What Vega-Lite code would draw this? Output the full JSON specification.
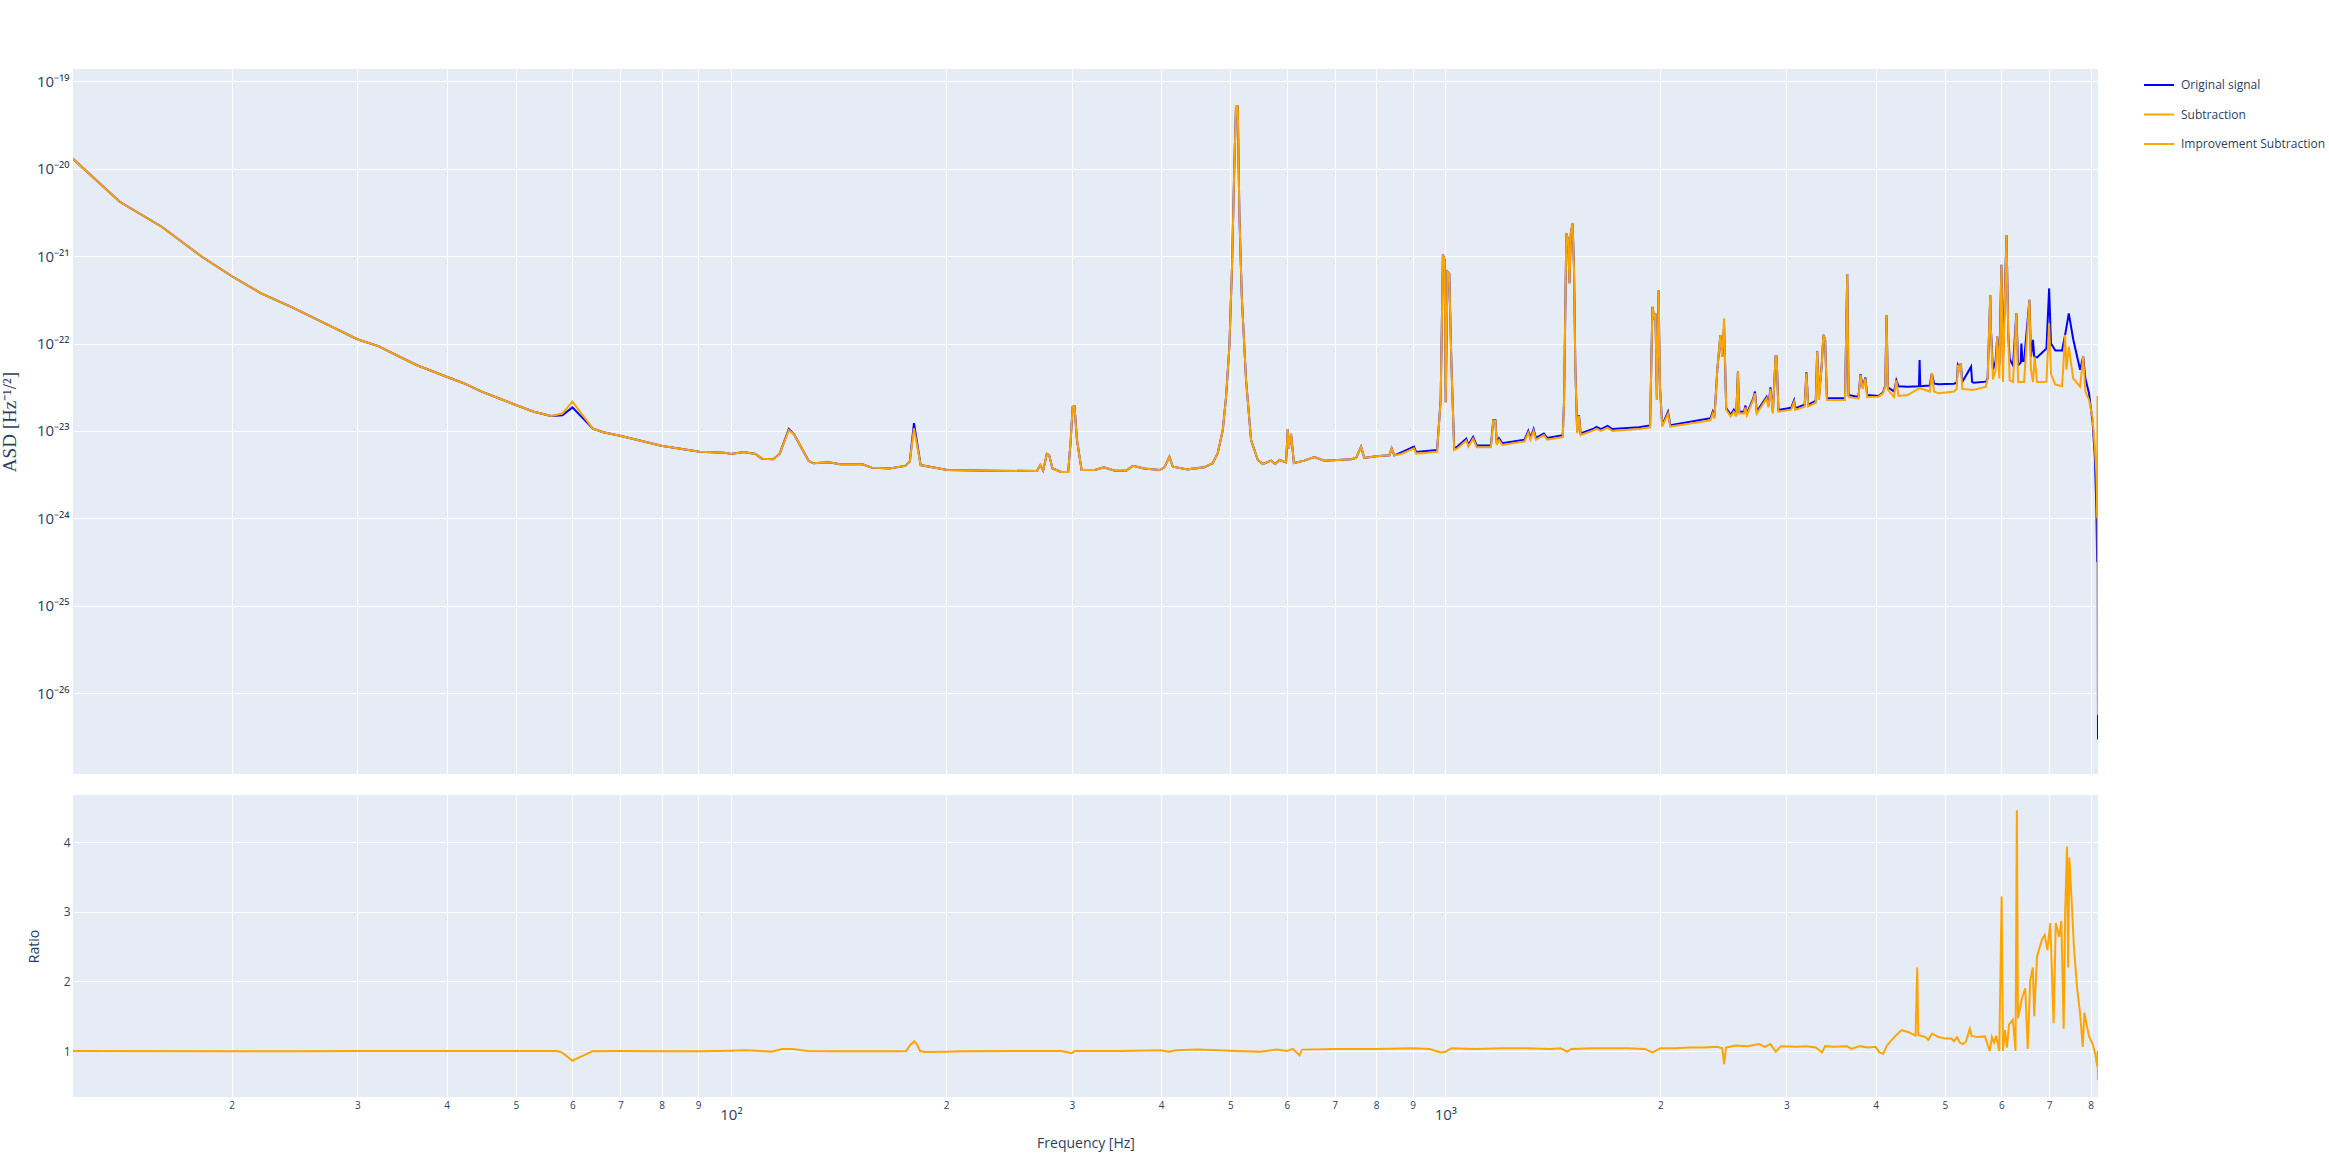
{
  "$schema": "https://vega.github.io/schema/vega-lite/v6.json",
  "background": "white",
  "padding": {"left": 0, "top": 69, "right": 5, "bottom": 5},
  "config": {
    "view": {"fill": "#E5ECF6", "stroke": null},
    "font": "Open Sans",
    "axis": {"gridColor": "white", "gridWidth": 1, "domain": false, "ticks": false, "labelColor": "#2a3f5f", "titleColor": "#2a3f5f", "labelFont": "Open Sans", "titleFont": "Open Sans", "titleFontWeight": "normal", "labelOverlap": false, "labelBound": false, "labelFlush": false},
    "legend": {"title": null, "orient": "right", "offset": 45, "padding": 0, "symbolType": "stroke", "symbolSize": 900, "symbolStrokeWidth": 2, "labelFontSize": 12, "labelColor": "#2a3f5f", "labelFont": "Open Sans", "rowPadding": 7.5, "labelOffset": 6}
  },
  "datasets": {
    "orig": [
      {"f": 12, "v": 1.30e-20}, {"f": 13.95, "v": 4.19e-21}, {"f": 15.97, "v": 2.17e-21}, {"f": 18.18, "v": 9.84e-22}, {"f": 20, "v": 5.92e-22},
      {"f": 22, "v": 3.75e-22}, {"f": 24.2, "v": 2.64e-22}, {"f": 27.3, "v": 1.63e-22}, {"f": 30, "v": 1.12e-22}, {"f": 32.1, "v": 9.35e-23},
      {"f": 36.3, "v": 5.68e-23}, {"f": 40, "v": 4.17e-23}, {"f": 42.1, "v": 3.56e-23}, {"f": 44.8, "v": 2.81e-23}, {"f": 47.6, "v": 2.32e-23},
      {"f": 50, "v": 1.98e-23}, {"f": 53, "v": 1.66e-23}, {"f": 56, "v": 1.48e-23}, {"f": 58.1, "v": 1.51e-23}, {"f": 60, "v": 1.86e-23},
      {"f": 64.1, "v": 1.06e-23}, {"f": 66.3, "v": 9.64e-24}, {"f": 70.2, "v": 8.75e-24}, {"f": 79.9, "v": 6.78e-24}, {"f": 90.4, "v": 5.78e-24},
      {"f": 97.8, "v": 5.64e-24}, {"f": 100, "v": 5.45e-24}, {"f": 104.2, "v": 5.75e-24}, {"f": 108.2, "v": 5.45e-24}, {"f": 110.5, "v": 4.81e-24},
      {"f": 114.6, "v": 4.73e-24}, {"f": 117, "v": 5.45e-24}, {"f": 120.5, "v": 1.05e-23}, {"f": 122.6, "v": 9.12e-24}, {"f": 128.5, "v": 4.53e-24},
      {"f": 130.5, "v": 4.26e-24}, {"f": 137.2, "v": 4.37e-24}, {"f": 142.2, "v": 4.15e-24}, {"f": 152.8, "v": 4.15e-24}, {"f": 157.3, "v": 3.80e-24},
      {"f": 166.7, "v": 3.72e-24}, {"f": 175.3, "v": 3.98e-24}, {"f": 178, "v": 4.47e-24}, {"f": 180.4, "v": 1.23e-23}, {"f": 184.3, "v": 4.07e-24},
      {"f": 200.9, "v": 3.57e-24}, {"f": 232, "v": 3.51e-24}, {"f": 268, "v": 3.47e-24}, {"f": 271, "v": 4.07e-24}, {"f": 273.5, "v": 3.51e-24},
      {"f": 276.8, "v": 5.45e-24}, {"f": 278.9, "v": 5.25e-24}, {"f": 281.9, "v": 3.72e-24}, {"f": 290, "v": 3.39e-24}, {"f": 296.5, "v": 3.39e-24},
      {"f": 299, "v": 7.94e-24}, {"f": 300.8, "v": 1.89e-23}, {"f": 302.6, "v": 1.91e-23}, {"f": 305, "v": 7.94e-24}, {"f": 309.6, "v": 3.57e-24},
      {"f": 323.2, "v": 3.57e-24}, {"f": 332.6, "v": 3.83e-24}, {"f": 344.8, "v": 3.51e-24}, {"f": 357.5, "v": 3.51e-24}, {"f": 365.3, "v": 3.98e-24},
      {"f": 378.7, "v": 3.72e-24}, {"f": 398.2, "v": 3.57e-24}, {"f": 404.3, "v": 3.83e-24}, {"f": 410.9, "v": 5.07e-24}, {"f": 415.4, "v": 3.89e-24},
      {"f": 435.8, "v": 3.63e-24}, {"f": 459.8, "v": 3.83e-24}, {"f": 472.4, "v": 4.27e-24}, {"f": 480.1, "v": 5.55e-24}, {"f": 488, "v": 1.02e-23},
      {"f": 493.2, "v": 2.46e-23}, {"f": 498.5, "v": 9.18e-23}, {"f": 502.9, "v": 8.32e-22}, {"f": 506.6, "v": 1.15e-20}, {"f": 509.3, "v": 5.36e-20},
      {"f": 511, "v": 3.94e-20}, {"f": 512.1, "v": 5.36e-20}, {"f": 514.8, "v": 3.09e-21}, {"f": 518.8, "v": 3.47e-22}, {"f": 526, "v": 3.82e-23},
      {"f": 534.6, "v": 7.87e-24}, {"f": 546.3, "v": 4.65e-24}, {"f": 555.2, "v": 4.18e-24}, {"f": 570.2, "v": 4.57e-24}, {"f": 577.7, "v": 4.18e-24},
      {"f": 585.8, "v": 4.65e-24}, {"f": 598.4, "v": 4.37e-24}, {"f": 601.7, "v": 1.05e-23}, {"f": 603.5, "v": 6.31e-24}, {"f": 608.1, "v": 9.23e-24},
      {"f": 613.7, "v": 4.30e-24}, {"f": 634.8, "v": 4.57e-24}, {"f": 655.6, "v": 5.01e-24}, {"f": 677, "v": 4.57e-24}, {"f": 738, "v": 4.73e-24},
      {"f": 750, "v": 4.90e-24}, {"f": 762, "v": 6.61e-24}, {"f": 770, "v": 4.90e-24}, {"f": 800, "v": 5.13e-24}, {"f": 835, "v": 5.25e-24},
      {"f": 841, "v": 6.31e-24}, {"f": 848, "v": 5.25e-24},
      {"f": 867.6, "v": 5.69e-24}, {"f": 903.6, "v": 6.61e-24}, {"f": 910, "v": 5.75e-24}, {"f": 973.6, "v": 6.03e-24}, {"f": 984.9, "v": 2.29e-23},
      {"f": 992, "v": 1.04e-21}, {"f": 997.8, "v": 9.02e-22}, {"f": 1001, "v": 2.14e-23}, {"f": 1006.9, "v": 6.64e-22}, {"f": 1012.5, "v": 6.35e-22},
      {"f": 1019.8, "v": 5.50e-23}, {"f": 1028.7, "v": 6.31e-24}, {"f": 1039.4, "v": 6.61e-24}, {"f": 1069.6, "v": 8.13e-24}, {"f": 1077, "v": 6.92e-24},
      {"f": 1093.5, "v": 8.51e-24}, {"f": 1106, "v": 6.81e-24}, {"f": 1158, "v": 6.81e-24}, {"f": 1166.7, "v": 1.32e-23}, {"f": 1175, "v": 1.32e-23},
      {"f": 1180, "v": 7.24e-24}, {"f": 1188.6, "v": 8.22e-24}, {"f": 1201, "v": 7.24e-24}, {"f": 1290.7, "v": 7.94e-24}, {"f": 1306, "v": 1.00e-23},
      {"f": 1315.2, "v": 8.32e-24}, {"f": 1328.8, "v": 1.05e-23}, {"f": 1338.5, "v": 8.32e-24}, {"f": 1373.5, "v": 9.33e-24}, {"f": 1387.7, "v": 8.32e-24},
      {"f": 1459.7, "v": 8.91e-24}, {"f": 1466, "v": 2.29e-23}, {"f": 1476.6, "v": 1.82e-21}, {"f": 1485, "v": 1.53e-21}, {"f": 1491.8, "v": 4.90e-22},
      {"f": 1498, "v": 1.82e-21}, {"f": 1506.7, "v": 2.36e-21}, {"f": 1513.4, "v": 7.59e-22}, {"f": 1520, "v": 5.50e-23}, {"f": 1529, "v": 9.77e-24},
      {"f": 1538.2, "v": 1.51e-23}, {"f": 1546.5, "v": 9.33e-24}, {"f": 1615.4, "v": 1.07e-23}, {"f": 1627, "v": 1.11e-23}, {"f": 1650.8, "v": 1.05e-23},
      {"f": 1686.6, "v": 1.14e-23}, {"f": 1711.3, "v": 1.05e-23}, {"f": 1865.6, "v": 1.10e-23}, {"f": 1934.3, "v": 1.15e-23}, {"f": 1948.7, "v": 2.63e-22},
      {"f": 1960, "v": 2.02e-22}, {"f": 1968, "v": 2.21e-22}, {"f": 1977, "v": 2.29e-23}, {"f": 1988, "v": 4.07e-22}, {"f": 1996.8, "v": 3.24e-23},
      {"f": 2011, "v": 1.16e-23}, {"f": 2049, "v": 1.66e-23}, {"f": 2064, "v": 1.16e-23}, {"f": 2350, "v": 1.40e-23}, {"f": 2367, "v": 1.66e-23},
      {"f": 2380, "v": 1.45e-23}, {"f": 2402, "v": 5.01e-23}, {"f": 2426, "v": 1.25e-22}, {"f": 2440, "v": 7.08e-23}, {"f": 2455, "v": 1.58e-22},
      {"f": 2472, "v": 1.82e-23}, {"f": 2508, "v": 1.53e-23}, {"f": 2533, "v": 1.74e-23}, {"f": 2553, "v": 1.53e-23}, {"f": 2567, "v": 4.79e-23},
      {"f": 2578, "v": 1.66e-23}, {"f": 2618, "v": 1.66e-23}, {"f": 2630, "v": 1.95e-23}, {"f": 2642, "v": 1.58e-23}, {"f": 2696, "v": 2.34e-23},
      {"f": 2712, "v": 2.82e-23}, {"f": 2728, "v": 1.66e-23}, {"f": 2815, "v": 2.45e-23}, {"f": 2833, "v": 1.95e-23}, {"f": 2851, "v": 3.16e-23},
      {"f": 2873, "v": 1.66e-23}, {"f": 2898, "v": 7.08e-23}, {"f": 2908, "v": 7.08e-23}, {"f": 2925, "v": 1.74e-23}, {"f": 3047, "v": 1.84e-23},
      {"f": 3076, "v": 2.24e-23}, {"f": 3088, "v": 1.82e-23}, {"f": 3183, "v": 2.00e-23}, {"f": 3201, "v": 4.68e-23}, {"f": 3219, "v": 2.00e-23},
      {"f": 3299, "v": 2.21e-23}, {"f": 3314, "v": 8.13e-23}, {"f": 3333, "v": 2.37e-23}, {"f": 3362, "v": 5.50e-23}, {"f": 3381, "v": 1.26e-22},
      {"f": 3400, "v": 1.10e-22}, {"f": 3420, "v": 2.37e-23}, {"f": 3625, "v": 2.37e-23}, {"f": 3651, "v": 6.24e-22}, {"f": 3667, "v": 2.57e-23},
      {"f": 3785, "v": 2.45e-23}, {"f": 3811, "v": 4.47e-23}, {"f": 3838, "v": 3.16e-23}, {"f": 3871, "v": 4.07e-23}, {"f": 3893, "v": 2.57e-23},
      {"f": 4037, "v": 2.51e-23}, {"f": 4096, "v": 2.75e-23}, {"f": 4127, "v": 3.31e-23}, {"f": 4144, "v": 2.11e-22}, {"f": 4162, "v": 3.16e-23},
      {"f": 4246, "v": 2.82e-23}, {"f": 4277, "v": 3.80e-23}, {"f": 4308, "v": 3.24e-23}, {"f": 4436, "v": 3.21e-23}, {"f": 4600, "v": 3.24e-23},
      {"f": 4610, "v": 6.46e-23}, {"f": 4620, "v": 3.24e-23}, {"f": 4764, "v": 3.31e-23}, {"f": 4796, "v": 4.57e-23}, {"f": 4830, "v": 3.47e-23},
      {"f": 4906, "v": 3.41e-23}, {"f": 5150, "v": 3.47e-23}, {"f": 5196, "v": 3.55e-23}, {"f": 5215, "v": 5.68e-23}, {"f": 5240, "v": 5.25e-23},
      {"f": 5265, "v": 5.89e-23}, {"f": 5290, "v": 3.63e-23}, {"f": 5442, "v": 5.43e-23}, {"f": 5460, "v": 3.63e-23}, {"f": 5490, "v": 3.55e-23},
      {"f": 5709, "v": 3.66e-23}, {"f": 5740, "v": 3.98e-23}, {"f": 5789, "v": 3.59e-22}, {"f": 5800, "v": 1.48e-22}, {"f": 5840, "v": 5.01e-23},
      {"f": 5890, "v": 6.31e-23}, {"f": 5920, "v": 1.20e-22}, {"f": 5960, "v": 5.62e-23}, {"f": 6001, "v": 7.94e-22}, {"f": 6030, "v": 6.03e-23},
      {"f": 6100, "v": 1.74e-21}, {"f": 6135, "v": 1.26e-22}, {"f": 6163, "v": 6.61e-23}, {"f": 6230, "v": 5.62e-23}, {"f": 6297, "v": 2.21e-22},
      {"f": 6333, "v": 5.62e-23}, {"f": 6385, "v": 6.03e-23}, {"f": 6400, "v": 1.00e-22}, {"f": 6420, "v": 6.31e-23}, {"f": 6455, "v": 6.31e-23},
      {"f": 6568, "v": 3.16e-22}, {"f": 6600, "v": 7.08e-23}, {"f": 6644, "v": 1.10e-22}, {"f": 6670, "v": 7.08e-23}, {"f": 6730, "v": 6.92e-23},
      {"f": 6938, "v": 8.75e-23}, {"f": 6998, "v": 4.27e-22}, {"f": 7040, "v": 1.00e-22}, {"f": 7140, "v": 8.32e-23}, {"f": 7297, "v": 8.32e-23},
      {"f": 7368, "v": 1.25e-22}, {"f": 7456, "v": 2.21e-22}, {"f": 7563, "v": 1.12e-22}, {"f": 7733, "v": 5.01e-23}, {"f": 7810, "v": 7.08e-23},
      {"f": 7865, "v": 3.98e-23}, {"f": 7959, "v": 2.69e-23}, {"f": 8050, "v": 1.26e-23}, {"f": 8110, "v": 5.01e-24}, {"f": 8150, "v": 1.26e-24},
      {"f": 8170, "v": 3.16e-25}, {"f": 8185, "v": 6.31e-25}, {"f": 8190, "v": 1.00e-26}, {"f": 8192, "v": 2.95e-27}
    ],
    "sub": [
      {"f": 12, "v": 1.30e-20}, {"f": 13.95, "v": 4.19e-21}, {"f": 15.97, "v": 2.17e-21}, {"f": 18.18, "v": 9.84e-22}, {"f": 20, "v": 5.92e-22},
      {"f": 22, "v": 3.75e-22}, {"f": 24.2, "v": 2.64e-22}, {"f": 27.3, "v": 1.63e-22}, {"f": 30, "v": 1.12e-22}, {"f": 32.1, "v": 9.35e-23},
      {"f": 36.3, "v": 5.68e-23}, {"f": 40, "v": 4.17e-23}, {"f": 42.1, "v": 3.56e-23}, {"f": 44.8, "v": 2.81e-23}, {"f": 47.6, "v": 2.32e-23},
      {"f": 50, "v": 1.98e-23}, {"f": 53, "v": 1.66e-23}, {"f": 56, "v": 1.48e-23}, {"f": 58.1, "v": 1.58e-23}, {"f": 60, "v": 2.16e-23},
      {"f": 64.1, "v": 1.06e-23}, {"f": 66.3, "v": 9.64e-24}, {"f": 70.2, "v": 8.75e-24}, {"f": 79.9, "v": 6.78e-24}, {"f": 90.4, "v": 5.78e-24},
      {"f": 97.8, "v": 5.64e-24}, {"f": 100, "v": 5.45e-24}, {"f": 104.2, "v": 5.75e-24}, {"f": 108.2, "v": 5.45e-24}, {"f": 110.5, "v": 4.81e-24},
      {"f": 114.6, "v": 4.73e-24}, {"f": 117, "v": 5.45e-24}, {"f": 120.5, "v": 1.02e-23}, {"f": 122.6, "v": 9.12e-24}, {"f": 128.5, "v": 4.53e-24},
      {"f": 130.5, "v": 4.26e-24}, {"f": 137.2, "v": 4.37e-24}, {"f": 142.2, "v": 4.15e-24}, {"f": 152.8, "v": 4.15e-24}, {"f": 157.3, "v": 3.80e-24},
      {"f": 166.7, "v": 3.72e-24}, {"f": 175.3, "v": 3.98e-24}, {"f": 178, "v": 4.47e-24}, {"f": 180.4, "v": 1.07e-23}, {"f": 184.3, "v": 4.07e-24},
      {"f": 200.9, "v": 3.57e-24}, {"f": 232, "v": 3.51e-24}, {"f": 268, "v": 3.47e-24}, {"f": 271, "v": 4.07e-24}, {"f": 273.5, "v": 3.51e-24},
      {"f": 276.8, "v": 5.45e-24}, {"f": 278.9, "v": 5.25e-24}, {"f": 281.9, "v": 3.72e-24}, {"f": 290, "v": 3.39e-24}, {"f": 296.5, "v": 3.39e-24},
      {"f": 299, "v": 7.94e-24}, {"f": 300.8, "v": 1.89e-23}, {"f": 302.6, "v": 1.91e-23}, {"f": 305, "v": 7.94e-24}, {"f": 309.6, "v": 3.57e-24},
      {"f": 323.2, "v": 3.57e-24}, {"f": 332.6, "v": 3.83e-24}, {"f": 344.8, "v": 3.51e-24}, {"f": 357.5, "v": 3.51e-24}, {"f": 365.3, "v": 3.98e-24},
      {"f": 378.7, "v": 3.72e-24}, {"f": 398.2, "v": 3.57e-24}, {"f": 404.3, "v": 3.83e-24}, {"f": 410.9, "v": 5.07e-24}, {"f": 415.4, "v": 3.89e-24},
      {"f": 435.8, "v": 3.63e-24}, {"f": 459.8, "v": 3.83e-24}, {"f": 472.4, "v": 4.27e-24}, {"f": 480.1, "v": 5.55e-24}, {"f": 488, "v": 1.02e-23},
      {"f": 493.2, "v": 2.46e-23}, {"f": 498.5, "v": 9.18e-23}, {"f": 502.9, "v": 8.32e-22}, {"f": 506.6, "v": 1.15e-20}, {"f": 509.3, "v": 5.36e-20},
      {"f": 511, "v": 3.94e-20}, {"f": 512.1, "v": 5.36e-20}, {"f": 514.8, "v": 3.09e-21}, {"f": 518.8, "v": 3.47e-22}, {"f": 526, "v": 3.82e-23},
      {"f": 534.6, "v": 7.87e-24}, {"f": 546.3, "v": 4.65e-24}, {"f": 555.2, "v": 4.18e-24}, {"f": 570.2, "v": 4.57e-24}, {"f": 577.7, "v": 4.18e-24},
      {"f": 585.8, "v": 4.65e-24}, {"f": 598.4, "v": 4.37e-24}, {"f": 601.7, "v": 1.05e-23}, {"f": 603.5, "v": 6.31e-24}, {"f": 608.1, "v": 9.23e-24},
      {"f": 613.7, "v": 4.30e-24}, {"f": 634.8, "v": 4.57e-24}, {"f": 655.6, "v": 5.01e-24}, {"f": 677, "v": 4.57e-24}, {"f": 738, "v": 4.73e-24},
      {"f": 750, "v": 4.90e-24}, {"f": 762, "v": 6.61e-24}, {"f": 770, "v": 4.90e-24}, {"f": 800, "v": 5.13e-24}, {"f": 835, "v": 5.25e-24},
      {"f": 841, "v": 6.31e-24}, {"f": 848, "v": 5.25e-24},
      {"f": 867.6, "v": 5.45e-24}, {"f": 903.6, "v": 6.31e-24}, {"f": 910, "v": 5.50e-24}, {"f": 973.6, "v": 5.75e-24}, {"f": 984.9, "v": 2.26e-23},
      {"f": 992, "v": 1.04e-21}, {"f": 997.8, "v": 9.02e-22}, {"f": 1001, "v": 2.09e-23}, {"f": 1006.9, "v": 6.64e-22}, {"f": 1012.5, "v": 6.35e-22},
      {"f": 1019.8, "v": 5.43e-23}, {"f": 1028.7, "v": 6.05e-24}, {"f": 1039.4, "v": 6.31e-24}, {"f": 1069.6, "v": 7.76e-24}, {"f": 1077, "v": 6.61e-24},
      {"f": 1093.5, "v": 8.13e-24}, {"f": 1106, "v": 6.50e-24}, {"f": 1158, "v": 6.50e-24}, {"f": 1166.7, "v": 1.31e-23}, {"f": 1175, "v": 1.31e-23},
      {"f": 1180, "v": 6.92e-24}, {"f": 1188.6, "v": 7.87e-24}, {"f": 1201, "v": 6.92e-24}, {"f": 1290.7, "v": 7.59e-24}, {"f": 1306, "v": 9.55e-24},
      {"f": 1315.2, "v": 7.94e-24}, {"f": 1328.8, "v": 1.00e-23}, {"f": 1338.5, "v": 7.94e-24}, {"f": 1373.5, "v": 8.97e-24}, {"f": 1387.7, "v": 7.94e-24},
      {"f": 1459.7, "v": 8.51e-24}, {"f": 1466, "v": 2.26e-23}, {"f": 1476.6, "v": 1.82e-21}, {"f": 1485, "v": 1.53e-21}, {"f": 1491.8, "v": 4.90e-22},
      {"f": 1498, "v": 1.82e-21}, {"f": 1506.7, "v": 2.36e-21}, {"f": 1513.4, "v": 7.59e-22}, {"f": 1520, "v": 5.43e-23}, {"f": 1529, "v": 9.40e-24},
      {"f": 1538.2, "v": 1.48e-23}, {"f": 1546.5, "v": 8.97e-24}, {"f": 1615.4, "v": 1.02e-23}, {"f": 1627, "v": 1.06e-23}, {"f": 1650.8, "v": 1.00e-23},
      {"f": 1686.6, "v": 1.09e-23}, {"f": 1711.3, "v": 1.00e-23}, {"f": 1865.6, "v": 1.05e-23}, {"f": 1934.3, "v": 1.10e-23}, {"f": 1948.7, "v": 2.63e-22},
      {"f": 1960, "v": 2.02e-22}, {"f": 1968, "v": 2.21e-22}, {"f": 1977, "v": 2.26e-23}, {"f": 1988, "v": 4.07e-22}, {"f": 1996.8, "v": 3.21e-23},
      {"f": 2011, "v": 1.12e-23}, {"f": 2049, "v": 1.58e-23}, {"f": 2064, "v": 1.12e-23}, {"f": 2350, "v": 1.32e-23}, {"f": 2367, "v": 1.58e-23},
      {"f": 2380, "v": 1.38e-23}, {"f": 2402, "v": 5.01e-23}, {"f": 2426, "v": 1.25e-22}, {"f": 2440, "v": 7.08e-23}, {"f": 2455, "v": 1.94e-22},
      {"f": 2472, "v": 1.74e-23}, {"f": 2508, "v": 1.46e-23}, {"f": 2533, "v": 1.66e-23}, {"f": 2553, "v": 1.46e-23}, {"f": 2567, "v": 4.75e-23},
      {"f": 2578, "v": 1.58e-23}, {"f": 2618, "v": 1.58e-23}, {"f": 2630, "v": 1.86e-23}, {"f": 2642, "v": 1.51e-23}, {"f": 2696, "v": 2.26e-23},
      {"f": 2712, "v": 2.69e-23}, {"f": 2728, "v": 1.58e-23}, {"f": 2815, "v": 2.34e-23}, {"f": 2833, "v": 1.86e-23}, {"f": 2851, "v": 3.02e-23},
      {"f": 2873, "v": 1.58e-23}, {"f": 2898, "v": 7.08e-23}, {"f": 2908, "v": 7.08e-23}, {"f": 2925, "v": 1.66e-23}, {"f": 3047, "v": 1.75e-23},
      {"f": 3076, "v": 2.14e-23}, {"f": 3088, "v": 1.74e-23}, {"f": 3183, "v": 1.89e-23}, {"f": 3201, "v": 4.57e-23}, {"f": 3219, "v": 1.91e-23},
      {"f": 3299, "v": 2.10e-23}, {"f": 3314, "v": 8.07e-23}, {"f": 3333, "v": 2.26e-23}, {"f": 3362, "v": 5.43e-23}, {"f": 3381, "v": 1.25e-22},
      {"f": 3400, "v": 1.10e-22}, {"f": 3420, "v": 2.26e-23}, {"f": 3625, "v": 2.26e-23}, {"f": 3651, "v": 6.24e-22}, {"f": 3667, "v": 2.45e-23},
      {"f": 3785, "v": 2.34e-23}, {"f": 3811, "v": 4.37e-23}, {"f": 3838, "v": 3.02e-23}, {"f": 3871, "v": 3.98e-23}, {"f": 3893, "v": 2.45e-23},
      {"f": 4037, "v": 2.46e-23}, {"f": 4096, "v": 2.69e-23}, {"f": 4127, "v": 3.21e-23}, {"f": 4144, "v": 2.11e-22}, {"f": 4162, "v": 2.95e-23},
      {"f": 4246, "v": 2.45e-23}, {"f": 4277, "v": 3.80e-23}, {"f": 4308, "v": 2.51e-23}, {"f": 4436, "v": 2.57e-23}, {"f": 4610, "v": 3.09e-23},
      {"f": 4764, "v": 2.82e-23}, {"f": 4796, "v": 4.57e-23}, {"f": 4830, "v": 2.82e-23}, {"f": 4906, "v": 2.69e-23}, {"f": 5150, "v": 2.82e-23},
      {"f": 5196, "v": 3.02e-23}, {"f": 5215, "v": 5.68e-23}, {"f": 5240, "v": 5.01e-23}, {"f": 5265, "v": 5.89e-23}, {"f": 5290, "v": 3.02e-23},
      {"f": 5442, "v": 2.95e-23}, {"f": 5490, "v": 2.95e-23}, {"f": 5709, "v": 3.21e-23}, {"f": 5740, "v": 3.98e-23}, {"f": 5789, "v": 3.59e-22},
      {"f": 5800, "v": 1.48e-22}, {"f": 5840, "v": 3.89e-23}, {"f": 5890, "v": 5.01e-23}, {"f": 5920, "v": 1.20e-22}, {"f": 5960, "v": 3.98e-23},
      {"f": 6001, "v": 7.94e-22}, {"f": 6030, "v": 3.63e-23}, {"f": 6100, "v": 1.74e-21}, {"f": 6135, "v": 1.26e-22}, {"f": 6163, "v": 3.80e-23},
      {"f": 6230, "v": 3.63e-23}, {"f": 6297, "v": 2.21e-22}, {"f": 6333, "v": 3.63e-23}, {"f": 6385, "v": 3.63e-23}, {"f": 6455, "v": 3.63e-23},
      {"f": 6568, "v": 3.16e-22}, {"f": 6600, "v": 5.01e-23}, {"f": 6644, "v": 3.63e-23}, {"f": 6680, "v": 7.08e-23}, {"f": 6730, "v": 3.63e-23},
      {"f": 6938, "v": 3.66e-23}, {"f": 6998, "v": 1.70e-22}, {"f": 7040, "v": 4.47e-23}, {"f": 7140, "v": 3.39e-23}, {"f": 7297, "v": 3.24e-23},
      {"f": 7368, "v": 1.26e-22}, {"f": 7400, "v": 5.01e-23}, {"f": 7456, "v": 9.18e-23}, {"f": 7563, "v": 3.98e-23}, {"f": 7733, "v": 3.21e-23},
      {"f": 7810, "v": 7.08e-23}, {"f": 7865, "v": 2.82e-23}, {"f": 7959, "v": 2.26e-23}, {"f": 8050, "v": 1.41e-23}, {"f": 8110, "v": 6.31e-24},
      {"f": 8150, "v": 3.16e-24}, {"f": 8170, "v": 1.00e-24}, {"f": 8180, "v": 2.51e-23}, {"f": 8188, "v": 1.00e-25}, {"f": 8192, "v": 5.62e-27}
    ],
    "ratio": [
      {"f": 12, "r": 1.0}, {"f": 25, "r": 0.998}, {"f": 30, "r": 1.0}, {"f": 55, "r": 1.0}, {"f": 57, "r": 1.0}, {"f": 58, "r": 0.98}, {"f": 60, "r": 0.86},
      {"f": 62, "r": 0.93}, {"f": 64, "r": 0.995}, {"f": 70, "r": 1.0}, {"f": 80, "r": 0.995}, {"f": 90, "r": 0.995}, {"f": 100, "r": 1.005},
      {"f": 105, "r": 1.01}, {"f": 110, "r": 1.0}, {"f": 114, "r": 0.99}, {"f": 118, "r": 1.03}, {"f": 122, "r": 1.03}, {"f": 128, "r": 1.0},
      {"f": 140, "r": 0.995}, {"f": 170, "r": 0.995}, {"f": 176, "r": 1.0}, {"f": 178, "r": 1.08}, {"f": 180.5, "r": 1.14}, {"f": 182, "r": 1.1},
      {"f": 184, "r": 1.0}, {"f": 187, "r": 0.985}, {"f": 200, "r": 0.99}, {"f": 210, "r": 0.995}, {"f": 250, "r": 1.0}, {"f": 290, "r": 1.0},
      {"f": 300, "r": 0.97}, {"f": 303, "r": 1.0}, {"f": 350, "r": 1.0}, {"f": 400, "r": 1.01}, {"f": 410, "r": 0.99}, {"f": 420, "r": 1.01},
      {"f": 450, "r": 1.02}, {"f": 480, "r": 1.01}, {"f": 510, "r": 1.0}, {"f": 550, "r": 0.99}, {"f": 580, "r": 1.02}, {"f": 600, "r": 1.0},
      {"f": 612, "r": 1.03}, {"f": 625, "r": 0.94}, {"f": 630, "r": 1.02}, {"f": 700, "r": 1.03}, {"f": 800, "r": 1.03}, {"f": 900, "r": 1.04},
      {"f": 950, "r": 1.03}, {"f": 985, "r": 0.98}, {"f": 1000, "r": 0.99}, {"f": 1020, "r": 1.04}, {"f": 1100, "r": 1.03}, {"f": 1200, "r": 1.04},
      {"f": 1300, "r": 1.04}, {"f": 1400, "r": 1.03}, {"f": 1450, "r": 1.04}, {"f": 1480, "r": 0.99}, {"f": 1500, "r": 1.03}, {"f": 1600, "r": 1.04},
      {"f": 1700, "r": 1.04}, {"f": 1800, "r": 1.04}, {"f": 1900, "r": 1.03}, {"f": 1950, "r": 0.98}, {"f": 2000, "r": 1.04}, {"f": 2100, "r": 1.04},
      {"f": 2200, "r": 1.05}, {"f": 2300, "r": 1.05}, {"f": 2400, "r": 1.06}, {"f": 2440, "r": 1.04}, {"f": 2455, "r": 0.81}, {"f": 2470, "r": 1.05},
      {"f": 2550, "r": 1.08}, {"f": 2650, "r": 1.07}, {"f": 2750, "r": 1.1}, {"f": 2800, "r": 1.06}, {"f": 2850, "r": 1.1}, {"f": 2900, "r": 0.99},
      {"f": 2950, "r": 1.07}, {"f": 3100, "r": 1.06}, {"f": 3200, "r": 1.07}, {"f": 3300, "r": 1.05}, {"f": 3365, "r": 0.98}, {"f": 3400, "r": 1.07},
      {"f": 3500, "r": 1.06}, {"f": 3650, "r": 1.07}, {"f": 3700, "r": 1.03}, {"f": 3800, "r": 1.07}, {"f": 3900, "r": 1.05}, {"f": 4000, "r": 1.06},
      {"f": 4050, "r": 0.98}, {"f": 4100, "r": 0.96}, {"f": 4150, "r": 1.08}, {"f": 4250, "r": 1.2}, {"f": 4350, "r": 1.3}, {"f": 4450, "r": 1.27},
      {"f": 4550, "r": 1.22}, {"f": 4575, "r": 2.2}, {"f": 4590, "r": 1.23}, {"f": 4700, "r": 1.2}, {"f": 4740, "r": 1.16}, {"f": 4800, "r": 1.25},
      {"f": 4900, "r": 1.2}, {"f": 5000, "r": 1.18}, {"f": 5110, "r": 1.18}, {"f": 5150, "r": 1.14}, {"f": 5200, "r": 1.2}, {"f": 5250, "r": 1.12},
      {"f": 5300, "r": 1.1}, {"f": 5350, "r": 1.13}, {"f": 5420, "r": 1.32}, {"f": 5450, "r": 1.22}, {"f": 5550, "r": 1.2}, {"f": 5690, "r": 1.21},
      {"f": 5780, "r": 1.0}, {"f": 5820, "r": 1.2}, {"f": 5860, "r": 1.12}, {"f": 5900, "r": 1.22}, {"f": 5960, "r": 1.0}, {"f": 6005, "r": 3.22},
      {"f": 6030, "r": 1.0}, {"f": 6070, "r": 1.3}, {"f": 6110, "r": 1.05}, {"f": 6150, "r": 1.38}, {"f": 6226, "r": 1.45}, {"f": 6280, "r": 1.0},
      {"f": 6307, "r": 4.46}, {"f": 6330, "r": 1.47}, {"f": 6412, "r": 1.76}, {"f": 6480, "r": 1.9}, {"f": 6532, "r": 1.03}, {"f": 6585, "r": 2.02},
      {"f": 6640, "r": 2.2}, {"f": 6670, "r": 1.5}, {"f": 6730, "r": 2.36}, {"f": 6839, "r": 2.6}, {"f": 6900, "r": 2.67}, {"f": 6960, "r": 2.45},
      {"f": 7024, "r": 2.84}, {"f": 7100, "r": 1.4}, {"f": 7150, "r": 2.84}, {"f": 7230, "r": 2.64}, {"f": 7280, "r": 2.87}, {"f": 7334, "r": 1.32},
      {"f": 7370, "r": 3.0}, {"f": 7413, "r": 3.94}, {"f": 7440, "r": 2.2}, {"f": 7470, "r": 3.78}, {"f": 7530, "r": 3.1}, {"f": 7580, "r": 2.5},
      {"f": 7656, "r": 1.92}, {"f": 7730, "r": 1.55}, {"f": 7800, "r": 1.06}, {"f": 7840, "r": 1.55}, {"f": 7954, "r": 1.22}, {"f": 8050, "r": 1.1},
      {"f": 8124, "r": 0.95}, {"f": 8170, "r": 0.78}, {"f": 8185, "r": 1.0}, {"f": 8192, "r": 0.58}
    ]
  },
  "resolve": {"scale": {"color": "shared", "x": "independent", "y": "independent"}},
  "spacing": 21,
  "vconcat": [
    {
      "width": 2025,
      "height": 705,
      "encoding": {
        "x": {"field": "f", "type": "quantitative", "scale": {"type": "log", "domain": [12, 8192], "nice": false},
              "axis": {"values": [20,30,40,50,60,70,80,90,100,200,300,400,500,600,700,800,900,1000,2000,3000,4000,5000,6000,7000,8000], "labels": false, "title": null, "grid": true}},
        "y": {"field": "v", "type": "quantitative", "scale": {"type": "log", "domain": [1.186e-27, 1.384e-19], "nice": false},
              "axis": {"values": [1e-19,1e-20,1e-21,1e-22,1e-23,1e-24,1e-25,1e-26], "grid": true,
                       "labelExpr": "'10⁻' + substring('⁰¹²³⁴⁵⁶⁷⁸⁹', floor(-round(log(datum.value)/LN10)/10), floor(-round(log(datum.value)/LN10)/10)+1) + substring('⁰¹²³⁴⁵⁶⁷⁸⁹', (-round(log(datum.value)/LN10))%10, (-round(log(datum.value)/LN10))%10+1)",
                       "labelFontSize": 15, "labelPadding": 4,
                       "title": "ASD [Hz⁻¹/²]", "titleFont": "Liberation Serif", "titleFontSize": 19, "titlePadding": 17}},
        "color": {"type": "nominal", "scale": {"domain": ["Original signal", "Subtraction", "Improvement Subtraction"], "range": ["#0000ff", "#ffa500", "#ffa500"]}}
      },
      "layer": [
        {"data": {"name": "orig"}, "mark": {"type": "line", "strokeWidth": 2, "clip": true}, "encoding": {"color": {"datum": "Original signal", "type": "nominal"}}},
        {"data": {"name": "sub"}, "mark": {"type": "line", "strokeWidth": 2, "clip": true}, "encoding": {"color": {"datum": "Subtraction", "type": "nominal"}}}
      ]
    },
    {
      "width": 2025,
      "height": 302,
      "data": {"name": "ratio"},
      "mark": {"type": "line", "strokeWidth": 2, "clip": true},
      "encoding": {
        "x": {"field": "f", "type": "quantitative", "scale": {"type": "log", "domain": [12, 8192], "nice": false},
              "axis": {"values": [20,30,40,50,60,70,80,90,100,200,300,400,500,600,700,800,900,1000,2000,3000,4000,5000,6000,7000,8000], "grid": true,
                       "labelExpr": "datum.value == 100 ? '10²' : datum.value == 1000 ? '10³' : toString(round(datum.value / pow(10, floor(log(datum.value)/LN10 + 1e-9))))",
                       "labelFontSize": {"condition": {"test": "datum.value == 100 || datum.value == 1000", "value": 15}, "value": 10},
                       "labelPadding": {"condition": {"test": "datum.value == 100 || datum.value == 1000", "value": 10}, "value": 3},
                       "title": "Frequency [Hz]", "titleFontSize": 14, "titlePadding": 14}},
        "y": {"field": "r", "type": "quantitative", "scale": {"domain": [0.339, 4.68], "nice": false, "zero": false},
              "axis": {"values": [1,2,3,4], "grid": true, "labelFontSize": 12, "labelPadding": 3, "title": "Ratio", "titleFontSize": 14, "titlePadding": 22}},
        "color": {"datum": "Improvement Subtraction", "type": "nominal"}
      }
    }
  ]
}
